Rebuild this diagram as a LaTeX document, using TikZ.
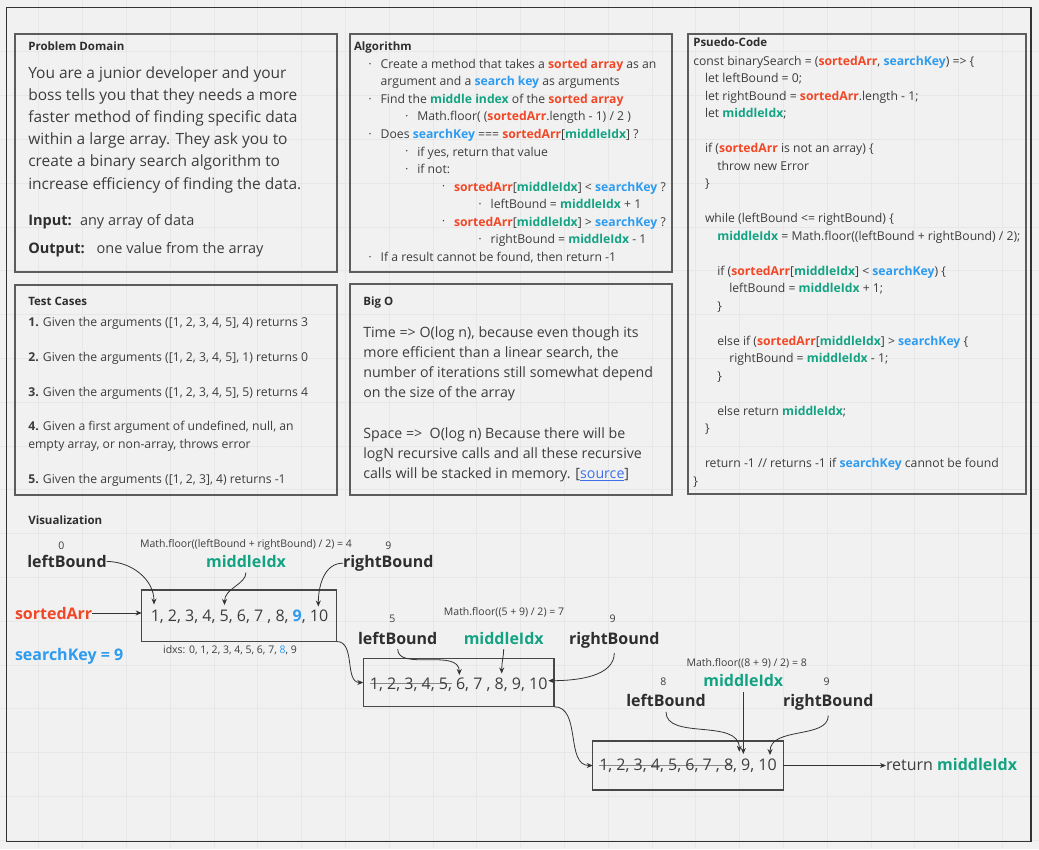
\documentclass[tikz,border=0pt]{standalone}
\usepackage{fontspec}
\setmainfont{Open Sans}
\usetikzlibrary{arrows.meta}

\definecolor{bg}{HTML}{F1F1F1}
\definecolor{gridc}{HTML}{E7E7E7}
\definecolor{framec}{HTML}{333333}
\definecolor{boxc}{HTML}{5C5C5C}
\definecolor{ink}{HTML}{3D3D3D}
\definecolor{headc}{HTML}{2E2E2E}
\definecolor{hred}{HTML}{F24726}
\definecolor{hblue}{HTML}{2D9BF0}
\definecolor{hgreen}{HTML}{13A383}
\definecolor{strkc}{HTML}{8A8A8A}
\definecolor{linkc}{HTML}{3E6FE8}

% coloured keywords
\newcommand\kr[1]{\textcolor{hred}{\textbf{#1}}}
\newcommand\kb[1]{\textcolor{hblue}{\textbf{#1}}}
\newcommand\kg[1]{\textcolor{hgreen}{\textbf{#1}}}
% small list bullet hanging left of the item text
\newcommand\bul{\llap{\raisebox{2.3pt}{\fontsize{6.5}{6.5}\selectfont •}\hspace{9.3pt}}}
% struck-out (discarded) array entries
\newsavebox\strkbox
\newcommand\strk[1]{\sbox\strkbox{#1}\textcolor{strkc}{\rlap{\rule[0.33em]{\wd\strkbox}{0.9pt}}\usebox\strkbox}}

\begin{document}
\begin{tikzpicture}[x=1pt,y=-1pt,
  every node/.style={inner sep=0pt,outer sep=0pt,text=ink},
  panel/.style={draw=boxc,line width=1.1pt},
  ttl/.style={anchor=base west,font=\fontsize{11.5}{14}\selectfont\bfseries,text=headc},
  body/.style={anchor=base west,font=\fontsize{15.5}{18}\selectfont},
  io/.style={anchor=base west,font=\fontsize{14.5}{17}\selectfont},
  small/.style={anchor=base west,font=\fontsize{12.2}{14}\selectfont},
  bigo/.style={anchor=base west,font=\fontsize{14.2}{16}\selectfont},
  lbl/.style={anchor=base,font=\fontsize{16}{18}\selectfont\bfseries,text=headc},
  num/.style={anchor=base,font=\fontsize{10.5}{12}\selectfont},
  arrtxt/.style={anchor=base,font=\fontsize{16}{18}\selectfont},
  arrbox/.style={draw=framec!90,line width=1.1pt,anchor=north west},
  arr/.style={draw=framec,line width=0.8pt,-{Stealth[length=6pt,width=5pt]}}]

% canvas, grid and frame
\useasboundingbox (0,0) rectangle (1039,849);
\fill[bg] (0,0) rectangle (1039,849);
\foreach \k in {0,...,22} \draw[gridc,line width=0.6pt] ({38.6+43.8*\k},0) -- ++(0,849);
\foreach \k in {1,...,19} \draw[gridc,line width=0.6pt] (0,{7.8+43.8*\k}) -- ++(1039,0);
\draw[framec,line width=1.5pt] (6.5,7.5) rectangle (1031,841.5);

% panels
\draw[panel] (15,34) rectangle (337,272);
\draw[panel] (350,34) rectangle (672,272);
\draw[panel] (688,34) rectangle (1026,494);
\draw[panel] (15,285) rectangle (337,495);
\draw[panel] (350,284) rectangle (672,495);

% Problem Domain
\node[ttl] (pdT) at (28.3,50) {Problem Domain};
\node[body] (pd0) at (28.3,78) {You are a junior developer and your};
\node[body] (pd1) at (28.3,100.2) {boss tells you that they needs a more};
\node[body] (pd2) at (28.3,122.4) {faster method of finding specific data};
\node[body] (pd3) at (28.3,144.6) {within a large array. They ask you to};
\node[body] (pd4) at (28.3,166.8) {create a binary search algorithm to};
\node[body] (pd5) at (28.3,189) {increase efficiency of finding the data.};
\node[io,font=\fontsize{14.5}{17}\selectfont\bfseries,text=headc] (inK) at (28.3,225) {Input:};
\node[io] (inV) at (80,225) {any array of data};
\node[io,font=\fontsize{14.5}{17}\selectfont\bfseries,text=headc] (outK) at (28.3,253.3) {Output:};
\node[io] (outV) at (96.7,253.3) {one value from the array};

% Algorithm
\newcommand\alg[3]{\node[small] (al#1) at (#2,{68.3+17.55*#1}) {#3};}
\node[ttl] (alT) at (354,50.7) {Algorithm};
\alg{0}{380.7}{\bul Create a method that takes a \kr{sorted array} as an}
\alg{1}{380.7}{argument and a \kb{search key} as arguments}
\alg{2}{380.7}{\bul Find the \kg{middle index} of the \kr{sorted array}}
\alg{3}{417.3}{\bul Math.floor( (\kr{sortedArr}.length - 1) / 2 )}
\alg{4}{380.7}{\bul Does \kb{searchKey} === \kr{sortedArr}[\kg{middleIdx}] ?}
\alg{5}{417.3}{\bul if yes, return that value}
\alg{6}{417.3}{\bul if not:}
\alg{7}{454}{\bul \kr{sortedArr}[\kg{middleIdx}] < \kb{searchKey} ?}
\alg{8}{490.7}{\bul leftBound = \kg{middleIdx} + 1}
\alg{9}{454}{\bul \kr{sortedArr}[\kg{middleIdx}] > \kb{searchKey} ?}
\alg{10}{490.7}{\bul rightBound = \kg{middleIdx} - 1}
\alg{11}{380.7}{\bul If a result cannot be found, then return -1}

% Pseudo-code
\newcommand\pcl[3]{\node[small] (pc#1) at (#2,{65+17.5*#1}) {#3};}
\node[ttl] (pcT) at (693.3,46.7) {Psuedo-Code};
\pcl{0}{693.3}{const binarySearch = (\kr{sortedArr}, \kb{searchKey}) => \{}
\pcl{1}{705}{let leftBound = 0;}
\pcl{2}{705}{let rightBound = \kr{sortedArr}.length - 1;}
\pcl{3}{705}{let \kg{middleIdx};}
\pcl{5}{705}{if (\kr{sortedArr} is not an array) \{}
\pcl{6}{717.3}{throw new Error}
\pcl{7}{705}{\}}
\pcl{9}{705}{while (leftBound <= rightBound) \{}
\pcl{10}{717.3}{\kg{middleIdx} = Math.floor((leftBound + rightBound) / 2);}
\pcl{12}{717.3}{if (\kr{sortedArr}[\kg{middleIdx}] < \kb{searchKey}) \{}
\pcl{13}{729.3}{leftBound = \kg{middleIdx} + 1;}
\pcl{14}{717.3}{\}}
\pcl{16}{717.3}{else if (\kr{sortedArr}[\kg{middleIdx}] > \kb{searchKey} \{}
\pcl{17}{729.3}{rightBound = \kg{middleIdx} - 1;}
\pcl{18}{717.3}{\}}
\pcl{20}{717.3}{else return \kg{middleIdx};}
\pcl{21}{705}{\}}
\pcl{23}{705}{return -1 // returns -1 if \kb{searchKey} cannot be found}
\pcl{24}{693.3}{\}}

% Test Cases
\newcommand\tcl[2]{\node[small] (tc#1) at (28.3,{326.5+17.4*#1}) {#2};}
\node[ttl] (tcT) at (28.3,305) {Test Cases};
\tcl{0}{\textbf{1.} Given the arguments ([1, 2, 3, 4, 5], 4) returns 3}
\tcl{2}{\textbf{2.} Given the arguments ([1, 2, 3, 4, 5], 1) returns 0}
\tcl{4}{\textbf{3.} Given the arguments ([1, 2, 3, 4, 5], 5) returns 4}
\tcl{6}{\textbf{4.} Given a first argument of undefined, null, an}
\tcl{7}{empty array, or non-array, throws error}
\tcl{9}{\textbf{5.} Given the arguments ([1, 2, 3], 4) returns -1}

% Big O
\newcommand\bol[2]{\node[bigo] (bo#1) at (363.3,{337+20.2*#1}) {#2};}
\node[ttl] (boT) at (363.3,305) {Big O};
\bol{0}{Time => O(log n), because even though its}
\bol{1}{more efficient than a linear search, the}
\bol{2}{number of iterations still somewhat depend}
\bol{3}{on the size of the array}
\bol{5}{Space =>\ \ O(log n) Because there will be}
\bol{6}{logN recursive calls and all these recursive}
\bol{7}{calls will be stacked in memory. [\textcolor{linkc}{\underline{source}}]}

% Visualization
\node[ttl] (viT) at (28.3,524) {Visualization};

% step 1
\node[arrbox,minimum width=195pt,minimum height=51.5pt] (b1) at (141.7,590) {};
\node[arrtxt] (a1) at (239.5,621.5) {1, 2, 3, 4, 5, 6, 7 , 8, \kb{9}, 10};
\node[num] (n1l) at (61.3,549.3) {0};
\node[lbl] (lb1) at (67,567.5) {leftBound};
\node[num] (f1) at (246,547) {Math.floor((leftBound + rightBound) / 2) = 4};
\node[lbl,text=hgreen] (mi1) at (246,567.3) {middleIdx};
\node[num] (n1r) at (388.3,549.3) {9};
\node[lbl] (rb1) at (388.3,567.3) {rightBound};
\node[lbl,anchor=base west,text=hred] (sa) at (15,619) {sortedArr};
\node[lbl,anchor=base west,text=hblue] (sk) at (15,660) {searchKey = 9};
\node[num] (ix) at (230,653) {idxs: 0, 1, 2, 3, 4, 5, 6, 7, \textcolor{hblue}{8}, 9};
\coordinate (t1l) at (154,604.5);
\coordinate (t1m) at (224.5,605);
\coordinate (t1r) at (318.3,606.5);
\draw[arr] (lb1.east) to[out=0,in=90] (t1l);
\draw[arr,shorten <=5pt] (mi1.south) to[out=-90,in=90] (t1m);
\draw[arr] (rb1.west) to[out=180,in=90] (t1r);
\draw[arr] (sa.east) -- (sa.east -| b1.west);

% step 2
\node[arrbox,minimum width=190.7pt,minimum height=48.4pt] (b2) at (363.3,658.3) {};
\node[arrtxt] (a2) at (458.7,689.3) {\strk{1, 2, 3, 4, 5,} 6, 7 , 8, 9, 10};
\node[num] (n2l) at (392.3,622.3) {5};
\node[lbl] (lb2) at (397.7,644) {leftBound};
\node[num] (f2) at (504,615) {Math.floor((5 + 9) / 2) = 7};
\node[lbl,text=hgreen] (mi2) at (503.7,644) {middleIdx};
\node[num] (n2r) at (612.7,622.3) {9};
\node[lbl] (rb2) at (614.3,644) {rightBound};
\coordinate (t2l) at (459.3,675);
\coordinate (t2m) at (501.7,673.5);
\coordinate (t2r) at (548.3,680.7);
\draw[arr,shorten <=5pt] (lb2.south) to[out=-90,in=90] (t2l);
\draw[arr,shorten <=5pt] (mi2.south) to[out=-90,in=90] (t2m);
\draw[arr,shorten <=5pt] (rb2.south) to[out=-90,in=0] (t2r);
\draw[arr] (b1.south east) to[out=0,in=180] (b2.west);

% step 3
\node[arrbox,minimum width=190.6pt,minimum height=49pt] (b3) at (592.7,741) {};
\node[arrtxt] (a3) at (688,770.7) {\strk{1, 2, 3, 4, 5, 6, 7 , 8}, 9, 10};
\node[num] (f3) at (746.7,666) {Math.floor((8 + 9) / 2) = 8};
\node[num] (n3l) at (663.3,685.7) {8};
\node[lbl,text=hgreen] (mi3) at (743.3,686.7) {middleIdx};
\node[num] (n3r) at (826.7,685.7) {9};
\node[lbl] (lb3) at (666,706.7) {leftBound};
\node[lbl] (rb3) at (828.3,706.7) {rightBound};
\coordinate (t3l) at (739.3,751.7);
\coordinate (t3m) at (743.3,754);
\coordinate (t3r) at (770,755);
\draw[arr,shorten <=5pt] (lb3.south) to[out=-90,in=90] (t3l);
\draw[arr,shorten <=5pt] (mi3.south) -- (t3m);
\draw[arr,shorten <=5pt] (rb3.south) to[out=-90,in=90] (t3r);
\draw[arr] (b2.south east) to[out=0,in=180] (b3.west);

% result
\node[arrtxt,anchor=base west] (ret) at (886,770.7) {return \kg{middleIdx}};
\draw[arr] (b3.east) -- (b3.east -| ret.west);

\end{tikzpicture}
\end{document}
